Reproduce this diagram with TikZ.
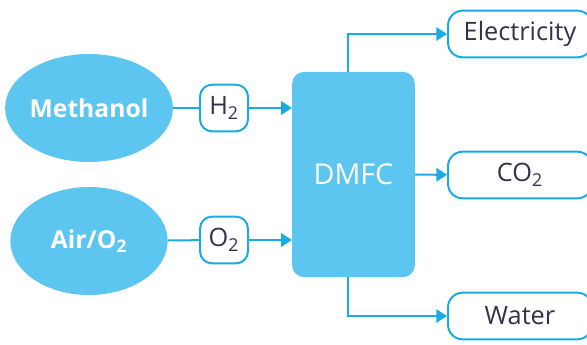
\documentclass[tikz,border=0pt]{standalone}
\usepackage{fontspec}
\setmainfont{Open Sans}
\usetikzlibrary{arrows.meta,shapes.geometric,positioning}
\definecolor{cellblue}{RGB}{92,197,240}
\definecolor{flowblue}{RGB}{27,171,228}
\definecolor{labelink}{RGB}{52,50,72}

\tikzset{
  feed/.style={ellipse,fill=cellblue,text=white,font=\fontsize{18.5}{22}\selectfont\bfseries,
    minimum width=118pt,minimum height=81pt,inner sep=0pt},
  gas/.style={draw=flowblue,line width=1.5pt,rounded corners=9pt,fill=white,text=labelink,
    minimum width=36pt,minimum height=35pt,inner sep=0pt},
  product/.style={gas,minimum width=108pt,rounded corners=11pt},
  flow/.style={flowblue,line width=1.5pt},
}

\begin{document}
\begin{tikzpicture}[x=0.75pt,y=-0.75pt,>={Triangle[length=8pt,width=10pt]},font=\fontsize{19}{22}\selectfont]
\useasboundingbox (0,0) rectangle (587,344);
% feeds
\node[feed] (meth) at (89,108) {Methanol};
\node[feed] (air) at (89,241) {Air/O\textsubscript{2}};
% gas streams into the cell
\node[gas] (h2) at (224,108) {H\textsubscript{2}};
\node[gas] (o2) at (224,240) {O\textsubscript{2}};
% the fuel cell
\node[fill=cellblue,rounded corners=9pt,minimum width=92pt,minimum height=154pt,
  text=white,font=\fontsize{21.5}{24}\selectfont] (dmfc) at (353.5,174.5) {DMFC};
% products
\node[product] (elec) at (520,34) {Electricity};
\node[product] (co2) at (520,175) {CO\textsubscript{2}};
\node[product] (water) at (520,316) {Water};

\draw[flow] (meth) -- (h2);
\draw[flow] (air) -- (o2);
\draw[flow,->] (h2) -- (h2 -| dmfc.west);
\draw[flow,->] (o2) -- (o2 -| dmfc.west);
\draw[flow,->] ([xshift=-4pt]dmfc.north) |- (elec);
\draw[flow,->] (dmfc) -- (co2);
\draw[flow,->] ([xshift=-4pt]dmfc.south) |- (water);
\end{tikzpicture}
\end{document}
